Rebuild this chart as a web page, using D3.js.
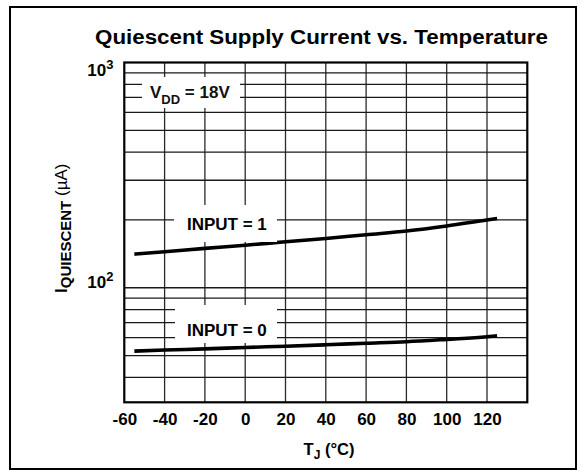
<!DOCTYPE html>
<html><head><meta charset="utf-8">
<script src="https://cdn.jsdelivr.net/npm/d3@7"></script>
<style>body{margin:0;background:#fff}text{font-family:"Liberation Sans",Arial,Helvetica,sans-serif}</style>
</head><body><svg id="c" width="586" height="476"></svg>
<script>
// ---- data ----
const temps = [-55, -40, -20, 0, 20, 40, 60, 80, 100, 120, 125];
const input1 = [141, 144.5, 149.5, 154.5, 160, 165.5, 172, 178.5, 188, 200, 203];
const input0 = [52.3, 52.9, 53.5, 54.3, 55.0, 55.8, 56.7, 57.6, 59.0, 60.6, 61.2];
const xTicks = [-60, -40, -20, 0, 20, 40, 60, 80, 100, 120];
const xGrid = [-40, -20, 0, 20, 40, 60, 80, 100, 120];
const yGrid = [40, 50, 60, 70, 80, 90, 100, 200, 300, 400, 500, 600, 700, 800, 900];
const yTickValues = [1000, 100];
const yTickExps = ["3", "2"];
const seriesNames = ["INPUT = 1", "INPUT = 0"];

// ---- layout ----
const L = 124.3, R = 527.3, T = 62.5, B = 402.3;
const svg = d3.select("#c");
const x = d3.scaleLinear().domain([-60, 140]).range([L, R]);
const y = d3.scaleLog().domain([31, 1000]).range([B, T]);

svg.append("rect").attr("x", 10).attr("y", 7).attr("width", 566).attr("height", 462)
  .attr("fill", "none").attr("stroke", "#000").attr("stroke-width", 2);

// title
svg.append("text").attr("x", 95).attr("y", 44).attr("font-size", 19.5).attr("font-weight", "bold")
  .attr("textLength", 453).attr("lengthAdjust", "spacingAndGlyphs")
  .text("Quiescent Supply Current vs. Temperature");

// grid
const g = svg.append("g");
g.selectAll("line.v").data(xGrid).join("line").attr("class", "v")
  .attr("x1", d => x(d)).attr("x2", d => x(d)).attr("y1", T).attr("y2", B)
  .attr("stroke", "#2a2a2a").attr("stroke-width", 1.3);
g.selectAll("line.h").data(yGrid).join("line").attr("class", "h")
  .attr("x1", L).attr("x2", R).attr("y1", d => y(d)).attr("y2", d => y(d))
  .attr("stroke", "#1a1a1a").attr("stroke-width", 1.3);

// curves
const line = d3.line().x(d => x(d[0])).y(d => y(d[1])).curve(d3.curveMonotoneX);
[input1, input0].forEach(vals => {
  svg.append("path").datum(temps.map((t, i) => [t, vals[i]]))
    .attr("d", line).attr("fill", "none").attr("stroke", "#000").attr("stroke-width", 3.6);
});

// frame
svg.append("rect").attr("x", L).attr("y", T).attr("width", R - L).attr("height", B - T)
  .attr("fill", "none").attr("stroke", "#000").attr("stroke-width", 2.2);

// label boxes
function box(x0, y0, x1, y1) {
  svg.append("rect").attr("x", x0).attr("y", y0).attr("width", x1 - x0).attr("height", y1 - y0).attr("fill", "#fff");
}
box(142, 77, 240, 108);
box(174, 205, 277, 242);
box(175, 305, 277, 343);

const vdd = svg.append("text").attr("x", 150).attr("y", 97.5).attr("font-size", 17).attr("font-weight", "bold").attr("fill", "#111");
vdd.append("tspan").text("V");
vdd.append("tspan").attr("font-size", 13).attr("dy", 6).text("DD");
vdd.append("tspan").attr("dy", -6).text(" = 18V");

svg.append("text").attr("x", 187).attr("y", 230).attr("font-size", 17).attr("font-weight", "bold").text(seriesNames[0]);
svg.append("text").attr("x", 187).attr("y", 335.7).attr("font-size", 17).attr("font-weight", "bold").text(seriesNames[1]);

// x axis tick labels
const xa = svg.append("g").attr("transform", `translate(0,${B})`)
  .call(d3.axisBottom(x).tickValues(xTicks).tickSize(0).tickFormat(d => String(d)));
xa.select(".domain").remove();
xa.selectAll("text").attr("y", 23).attr("dy", null).attr("font-size", 17).attr("font-weight", "bold")
  .attr("fill", "#000").style("font-family", '"Liberation Sans",Arial,sans-serif');

// y tick labels (10^n)
yTickValues.forEach((v, i) => {
  const yy = i === 0 ? y(v) + 13.5 : y(v);
  const t = svg.append("text").attr("x", 113.5).attr("y", yy).attr("text-anchor", "end")
    .attr("font-size", 17).attr("font-weight", "bold");
  t.append("tspan").text("10");
  t.append("tspan").attr("font-size", 13).attr("dy", -7).text(yTickExps[i]);
});

// axis titles
const xt = svg.append("text").attr("x", 329).attr("y", 455).attr("text-anchor", "middle")
  .attr("font-size", 16.5).attr("font-weight", "bold");
xt.append("tspan").text("T");
xt.append("tspan").attr("font-size", 12).attr("dy", 4).text("J");
xt.append("tspan").attr("dy", -4).text(" (°C)");

const yt = svg.append("text").attr("transform", "translate(67,293) rotate(-90)")
  .attr("font-size", 17).attr("font-weight", "bold");
yt.append("tspan").text("I");
yt.append("tspan").attr("font-size", 15).attr("dy", 4).text("QUIESCENT");
yt.append("tspan").attr("dy", -4).attr("font-weight", "normal").text(" (µA)");
</script></body></html>
